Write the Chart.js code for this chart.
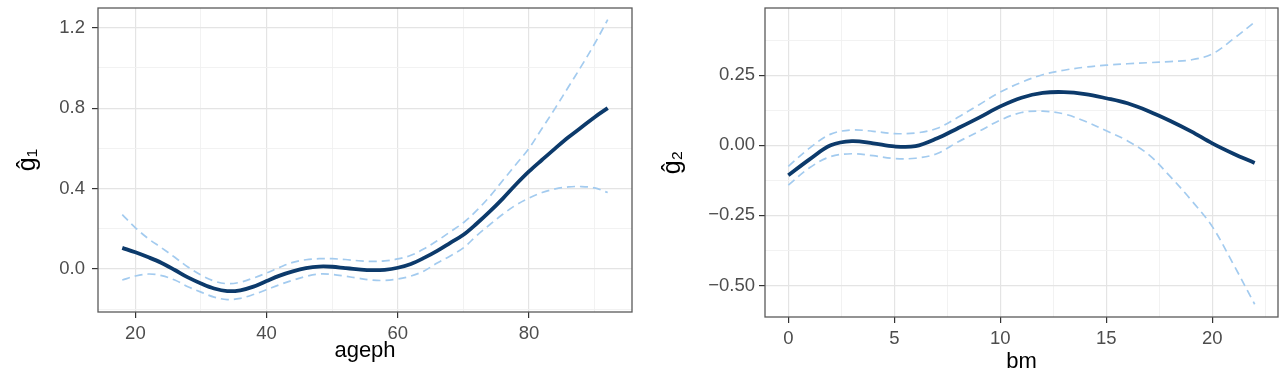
<!DOCTYPE html>
<html>
<head>
<meta charset="utf-8">
<script src="https://cdn.jsdelivr.net/npm/chart.js@4"></script>
<style>
  html, body { margin: 0; padding: 0; background: #fff; overflow: hidden; width: 1288px; height: 370px; }
  .panel { position: absolute; top: 0; }
</style>
</head>
<body>
<div class="panel" style="left:0px"><canvas id="graficaAgeph" width="645" height="380"></canvas></div>
<div class="panel" style="left:645px"><canvas id="graficaBm" width="643" height="380"></canvas></div>
<script>
// Datos panel izquierdo (ageph)
const ageph = [18, 20, 22, 24, 26, 28, 30, 32, 34, 36, 38, 40, 42, 44, 46, 48, 50, 52, 54,
               56, 58, 60, 62, 64, 66, 68, 70, 72, 74, 76, 78, 80, 82, 84, 86, 88, 90, 92];
const g1 = [0.105, 0.083, 0.058, 0.03, -0.005, -0.042, -0.072, -0.097, -0.110, -0.106, -0.088,
            -0.060, -0.033, -0.012, 0.004, 0.012, 0.011, 0.004, -0.002, -0.006, -0.004, 0.006,
            0.025, 0.055, 0.09, 0.13, 0.17, 0.225, 0.285, 0.35, 0.42, 0.485, 0.543, 0.6, 0.655,
            0.705, 0.755, 0.80];
const g1Upper = [0.27, 0.205, 0.15, 0.105, 0.058, 0.01, -0.03, -0.06, -0.073, -0.066, -0.045,
                 -0.02, 0.008, 0.033, 0.046, 0.051, 0.051, 0.047, 0.041, 0.038, 0.04, 0.05,
                 0.068, 0.1, 0.14, 0.185, 0.23, 0.29, 0.36, 0.44, 0.52, 0.60, 0.70, 0.80, 0.905,
                 1.01, 1.12, 1.24];
const g1Lower = [-0.055, -0.035, -0.025, -0.033, -0.055, -0.088, -0.115, -0.14, -0.152, -0.146,
                 -0.127, -0.103, -0.078, -0.056, -0.037, -0.025, -0.027, -0.036, -0.046, -0.055,
                 -0.057, -0.05, -0.035, -0.01, 0.03, 0.065, 0.105, 0.165, 0.22, 0.272, 0.318,
                 0.353, 0.38, 0.398, 0.408, 0.41, 0.403, 0.38];
const ticksAgeph = [20, 40, 60, 80];
const minorAgeph = [30, 50, 70, 90];
const ticksG1 = [0.0, 0.4, 0.8, 1.2];
const minorG1 = [-0.2, 0.2, 0.6, 1.0];

// Datos panel derecho (bm)
const bm = [0, 1, 2, 3, 4, 5, 6, 7, 8, 9, 10, 11, 12, 13, 14, 15, 16, 17, 18, 19, 20, 21, 22];
const g2 = [-0.107, -0.05, 0.0, 0.015, 0.007, -0.004, -0.003, 0.024, 0.061, 0.099, 0.139, 0.17,
            0.187, 0.19, 0.183, 0.168, 0.15, 0.122, 0.088, 0.05, 0.007, -0.03, -0.063];
const g2Upper = [-0.075, -0.01, 0.04, 0.055, 0.05, 0.042, 0.044, 0.06, 0.1, 0.145, 0.19, 0.225,
                 0.252, 0.268, 0.279, 0.286, 0.291, 0.295, 0.299, 0.305, 0.326, 0.38, 0.44];
const g2Lower = [-0.142, -0.08, -0.04, -0.03, -0.037, -0.047, -0.046, -0.03, 0.012, 0.05, 0.09,
                 0.117, 0.122, 0.112, 0.086, 0.052, 0.016, -0.033, -0.11, -0.195, -0.29, -0.425,
                 -0.567];
const ticksBm = [0, 5, 10, 15, 20];
const minorBm = [2.5, 7.5, 12.5, 17.5, 22.5];
const ticksG2 = [-0.50, -0.25, 0.00, 0.25];
const minorG2 = [-0.375, -0.125, 0.125, 0.375];

const FONT = "'Liberation Sans', Arial, 'DejaVu Sans', sans-serif";
const colorLinea = '#0c3a6b';
const colorBanda = '#a3cbef';

const esMayor = (v, lista) => lista.some(t => Math.abs(t - v) < 1e-9);
const puntos = (xs, ys) => xs.map((x, i) => ({ x: x, y: ys[i] }));

// marco del panel (panel.border)
const marcoPanel = {
    id: 'marcoPanel',
    afterDraw(chart) {
        const { ctx, chartArea: a } = chart;
        ctx.save();
        ctx.strokeStyle = '#5a5a5a';
        ctx.lineWidth = 1.3;
        ctx.strokeRect(a.left, a.top, a.right - a.left, a.bottom - a.top);
        ctx.restore();
    }
};

// quita el relleno extra que Chart.js reserva para las etiquetas extremas
const sinRelleno = (s) => { s.paddingTop = 0; s.paddingBottom = 0; s.paddingLeft = 0; s.paddingRight = 0; };

function ejeConfig(mayores, menores, min, max, formato, relleno, extra) {
    const todos = mayores.concat(menores).sort((a, b) => a - b);
    return Object.assign({
        type: 'linear',
        min: min,
        max: max,
        afterBuildTicks: (scale) => { scale.ticks = todos.map(v => ({ value: v })); },
        grid: {
            color: (c) => esMayor(c.tick.value, mayores) ? '#e4e4e4' : '#f0f0f0',
            lineWidth: (c) => esMayor(c.tick.value, mayores) ? 1.2 : 0.9,
            tickColor: (c) => esMayor(c.tick.value, mayores) ? '#333333' : 'rgba(0,0,0,0)',
            tickWidth: 1.2,
            tickLength: 6
        },
        border: { display: false },
        ticks: {
            autoSkip: false,
            maxRotation: 0,
            padding: relleno,
            color: '#4d4d4d',
            font: { family: FONT, size: 18.5 },
            callback: (v) => esMayor(v, mayores) ? formato(v) : ''
        }
    }, extra);
}

function crearPanel(id, xs, est, sup, inf, opts) {
    const ctx = document.getElementById(id).getContext('2d');
    return new Chart(ctx, {
        type: 'line',
        data: {
            datasets: [{
                data: puntos(xs, est),
                borderColor: colorLinea,
                borderWidth: 3.8,
                pointRadius: 0,
                tension: 0.35
            }, {
                data: puntos(xs, sup),
                borderColor: colorBanda,
                borderWidth: 1.7,
                borderDash: [8, 5],
                pointRadius: 0,
                tension: 0.35
            }, {
                data: puntos(xs, inf),
                borderColor: colorBanda,
                borderWidth: 1.7,
                borderDash: [8, 5],
                pointRadius: 0,
                tension: 0.35
            }]
        },
        options: {
            responsive: false,
            animation: false,
            layout: { padding: opts.padding },
            plugins: { legend: { display: false }, tooltip: { enabled: false } },
            scales: {
                x: ejeConfig(opts.xMayor, opts.xMenor, opts.xMin, opts.xMax, (v) => String(v), opts.xRelleno, {
                    position: 'bottom',
                    afterFit: (s) => { s.height = opts.xAlto; sinRelleno(s); },
                    title: {
                        display: true, text: opts.xTitulo, color: '#000',
                        font: { family: FONT, size: 22 },
                        padding: { top: 0, bottom: opts.xTituloPad }
                    }
                }),
                y: ejeConfig(opts.yMayor, opts.yMenor, opts.yMin, opts.yMax, opts.yFormato, opts.yRelleno, {
                    position: 'left',
                    afterFit: (s) => { s.width = opts.yAncho; sinRelleno(s); },
                    title: {
                        display: true, text: opts.yTitulo, color: '#000',
                        font: { family: FONT, size: 25 },
                        padding: { top: 13, bottom: 0 }
                    }
                })
            }
        },
        plugins: [marcoPanel]
    });
}

crearPanel('graficaAgeph', ageph, g1, g1Upper, g1Lower, {
    padding: { top: 8, right: 13, left: 0, bottom: 0 },
    xMayor: ticksAgeph, xMenor: minorAgeph, xMin: 14.3, xMax: 95.7, xAlto: 68, xRelleno: 5,
    xTitulo: 'ageph', xTituloPad: 16,
    yMayor: ticksG1, yMenor: minorG1, yMin: -0.214, yMax: 1.298, yAncho: 98, yRelleno: 7,
    yTitulo: 'ĝ\u2081', yFormato: (v) => v.toFixed(1)
});

crearPanel('graficaBm', bm, g2, g2Upper, g2Lower, {
    padding: { top: 8, right: 10, left: 0, bottom: 0 },
    xMayor: ticksBm, xMenor: minorBm, xMin: -1.1, xMax: 23.1, xAlto: 63, xRelleno: 5,
    xTitulo: 'bm', xTituloPad: 5,
    yMayor: ticksG2, yMenor: minorG2, yMin: -0.6125, yMax: 0.49, yAncho: 120, yRelleno: 4,
    yTitulo: 'ĝ\u2082', yFormato: (v) => (v < 0 ? '\u2212' : '') + Math.abs(v).toFixed(2)
});
</script>
</body>
</html>
